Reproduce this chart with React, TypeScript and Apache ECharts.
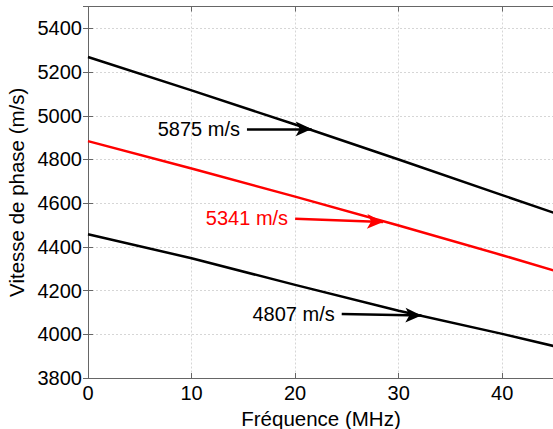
import React, { useEffect, useRef } from "react";
import * as echarts from "echarts";

// Frequency samples (MHz)
const freq = [0, 10, 20, 30, 40, 45];
// Phase velocity (m/s) for the three modes
const upperBlack = [5269, 5116, 4960, 4800, 4637, 4556];
const middleRed = [4884, 4759, 4630, 4498, 4362, 4292];
const lowerBlack = [4458, 4348, 4226, 4108, 4002, 3946];

// Annotations: label, arrow start and arrow tip (MHz, m/s)
const annUpper = { text: "5875 m/s", start: [15.35, 4940], end: [21.6, 4940] };
const annRed = { text: "5341 m/s", start: [20.0, 4529], end: [28.5, 4514] };
const annLower = { text: "4807 m/s", start: [24.5, 4093], end: [32.2, 4086] };

const FONT = "'Liberation Sans', Arial, Helvetica, sans-serif";

function pairs(xs: number[], ys: number[]) {
  return xs.map((x, i) => [x, ys[i]]);
}

function arrow(ann: { text: string; start: number[]; end: number[] }, color: string) {
  return {
    silent: true,
    symbol: ["none", "arrow"],
    symbolSize: [11, 16],
    lineStyle: { color, width: 2.5, type: "solid" },
    label: {
      show: true,
      position: "start",
      distance: 7,
      formatter: ann.text,
      color,
      fontSize: 20,
      fontFamily: FONT,
    },
    data: [[{ coord: ann.start }, { coord: ann.end }]],
  };
}

export default function App() {
  const ref = useRef<HTMLDivElement>(null);
  useEffect(() => {
    const chart = echarts.init(ref.current!, null, { renderer: "svg" });
    const axisColor = "#666";
    const splitLine = { show: true, lineStyle: { color: "#d6d6d6", type: [2, 2], width: 1 } };
    chart.setOption({
      animation: false,
      backgroundColor: "#fff",
      textStyle: { fontFamily: FONT },
      grid: {
        left: 88,
        right: -1,
        top: 6.5,
        bottom: 51,
        containLabel: false,
        outerBoundsMode: "none",
      },
      xAxis: [
        {
          type: "value",
          min: 0,
          max: 45,
          interval: 10,
          name: "Fréquence (MHz)",
          nameLocation: "middle",
          nameGap: 27,
          nameTextStyle: { fontSize: 20.5, color: "#000", fontFamily: FONT },
          axisLine: { show: true, lineStyle: { color: axisColor, width: 1 } },
          axisTick: { show: true, inside: true, length: 5, lineStyle: { color: axisColor } },
          axisLabel: {
            fontSize: 20,
            color: "#000",
            margin: 5,
            showMaxLabel: false,
            fontFamily: FONT,
            formatter: (v: number) => String(v),
          },
          splitLine,
        },
        {
          type: "value",
          position: "top",
          min: 0,
          max: 45,
          interval: 10,
          axisLine: { show: true, lineStyle: { color: axisColor, width: 1 } },
          axisTick: { show: true, inside: true, length: 5, lineStyle: { color: axisColor } },
          axisLabel: { show: false },
          splitLine: { show: false },
        },
      ],
      yAxis: [
        {
          type: "value",
          min: 3800,
          max: 5500,
          interval: 200,
          name: "Vitesse de phase (m/s)",
          nameLocation: "middle",
          nameGap: 54,
          nameTextStyle: { fontSize: 20.5, color: "#000", fontFamily: FONT },
          axisLine: { show: true, lineStyle: { color: axisColor, width: 1 } },
          axisTick: { show: true, inside: true, length: 5, lineStyle: { color: axisColor } },
          axisLabel: {
            fontSize: 20,
            color: "#000",
            margin: 6,
            showMaxLabel: false,
            fontFamily: FONT,
            formatter: (v: number) => String(v),
          },
          splitLine,
        },
        {
          type: "value",
          position: "right",
          min: 3800,
          max: 5500,
          interval: 200,
          axisLine: { show: true, lineStyle: { color: axisColor, width: 1 } },
          axisTick: { show: true, inside: true, length: 5, lineStyle: { color: axisColor } },
          axisLabel: { show: false },
          splitLine: { show: false },
        },
      ],
      series: [
        {
          type: "line",
          data: pairs(freq, upperBlack),
          showSymbol: false,
          symbol: "none",
          lineStyle: { color: "#000", width: 2.5 },
          markLine: arrow(annUpper, "#000"),
        },
        {
          type: "line",
          data: pairs(freq, middleRed),
          showSymbol: false,
          symbol: "none",
          lineStyle: { color: "#ff0000", width: 2.5 },
          markLine: arrow(annRed, "#ff0000"),
        },
        {
          type: "line",
          data: pairs(freq, lowerBlack),
          showSymbol: false,
          symbol: "none",
          lineStyle: { color: "#000", width: 2.5 },
          markLine: arrow(annLower, "#000"),
        },
      ],
    });
    return () => chart.dispose();
  }, []);
  return (
    <div
      ref={ref}
      style={{ position: "fixed", left: 0, top: 0, width: 553, height: 429 }}
    />
  );
}
